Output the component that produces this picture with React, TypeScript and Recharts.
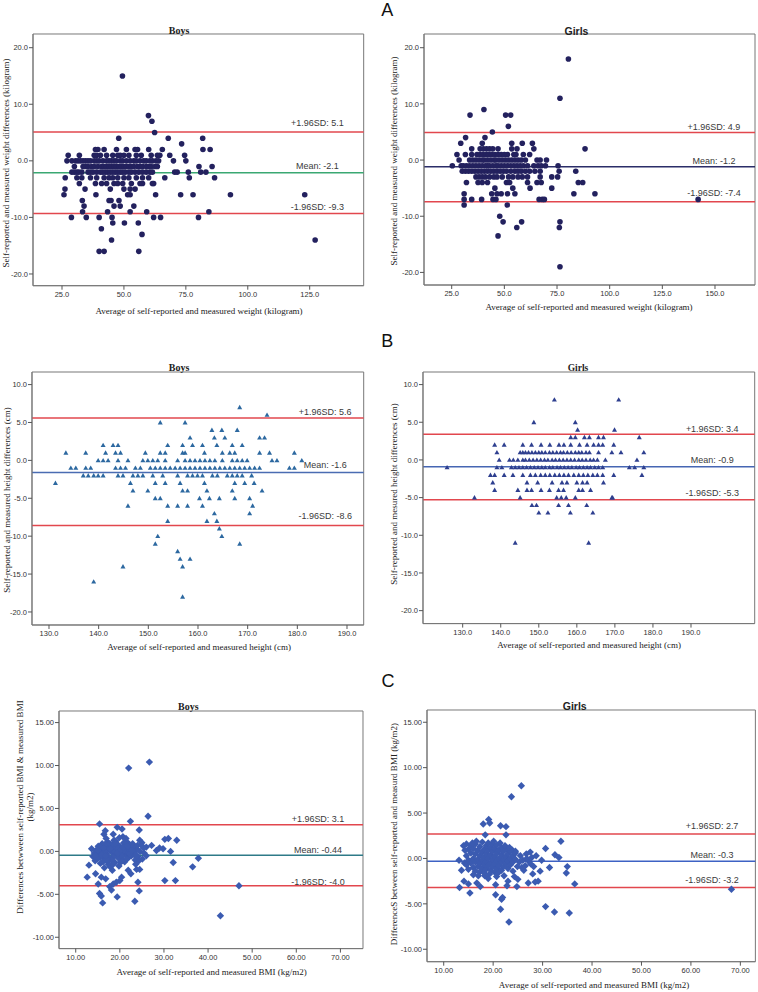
import React from 'react';
import { ScatterChart, Scatter, XAxis, YAxis, ReferenceLine, ReferenceArea } from 'recharts';

type Rows = [number, number[]][];

// ---------- DATA ----------
// A: weight differences (kg), rows = [difference, averages[]]
const boysWeightRows: Rows = [
  [15, [49.4]],
  [8, [59.9]],
  [7, [61.3]],
  [5, [62.4]],
  [4, [47.9, 67.9, 81.8]],
  [3, [73.3]],
  [2, [38.5, 39.5, 42, 47, 51, 54.5, 55.5, 60, 65.5, 81.9, 84.8]],
  [1, [27.5, 32, 38, 39, 40.5, 43, 45.5, 47.5, 48.5, 50, 52, 55, 57, 61, 63.5, 64.5, 68.5, 74.5]],
  [0, [27, 29, 30.5, 31.5, 32.5, 33.5, 34.5, 35.5, 36.5, 38, 39, 40, 41.5, 43, 44, 45, 46, 47, 48.5, 49.5, 51, 52.5, 54, 55, 56.5, 58, 59, 60.5, 61.5, 63, 64, 70, 75]],
  [-1, [30, 33.5, 34.5, 35.5, 37, 38, 39.5, 41, 42, 43, 44, 45, 46, 47, 48, 49, 50, 51, 52, 53, 54, 55.5, 56.5, 57.5, 59, 60, 61, 62.5, 63.5, 80.3, 85.6]],
  [-2, [29, 30, 31, 31.8, 33, 35.5, 36.5, 37.5, 39, 40.5, 41.5, 42.5, 43.5, 44.5, 45.5, 46.5, 47.5, 48.5, 49.5, 50.5, 52, 53, 54.5, 56, 57.5, 59, 60.5, 61.5, 70.5, 71.5, 76, 81, 83.1]],
  [-3, [26.3, 31, 33, 36.5, 39, 42, 44, 45.5, 47.5, 50, 52, 55, 57.5, 60, 66.5, 76.4, 86.6]],
  [-4, [32, 38.5, 41, 43, 46, 47.5, 49.5, 53, 56.5, 57.5, 61.5, 62]],
  [-5, [26.2, 34.3, 44.5, 50, 52.5, 54.5]],
  [-6, [25.8, 38.7, 51.5, 52.5, 62.8, 72.9, 77.9, 93, 123]],
  [-7, [33.2, 44, 44.8, 48]],
  [-8, [33.9, 46, 48.5, 54]],
  [-9, [33.3, 43.4, 52.5, 59.2, 84.3]],
  [-10, [28.8, 34.8, 40, 45.2, 62, 64.8, 80.1]],
  [-11, [45.5, 50.2, 55.8]],
  [-12, [40.9]],
  [-13, [57.3]],
  [-14, [45, 127.2]],
  [-16, [40, 42, 56]],
];

const girlsWeightRows: Rows = [
  [18, [80.4]],
  [11, [76.4]],
  [9, [40.3]],
  [8, [33.7, 50.6, 53]],
  [6, [51.9]],
  [5, [44.3]],
  [4, [31.6, 40.8]],
  [3, [29.3, 39.5, 53.5, 58.5, 63.3]],
  [2, [34.5, 38.5, 40, 41.5, 43, 44.5, 47, 53.5, 56, 64, 88.3]],
  [1, [27.5, 31.5, 34.5, 37, 38.5, 40, 41.5, 42.5, 44, 45.5, 47, 48.5, 50, 51.5, 54.5, 55.5, 59, 62]],
  [0, [28.5, 33.5, 35, 36.5, 38, 39.5, 40.5, 42, 43.5, 45, 46, 47.5, 49, 50.5, 52, 53.5, 55, 56.5, 58, 60, 65.5, 67, 70]],
  [-1, [25.3, 29.5, 30.5, 32, 33.5, 35, 36.5, 38, 39.5, 41, 42, 43, 44.5, 46, 47, 48.5, 50, 51.5, 53, 54.5, 56, 57.5, 59, 61, 64, 66, 67.5, 69.5, 75.5]],
  [-2, [30, 31.5, 33, 34.5, 36, 37.5, 39, 40.5, 42, 43.5, 45, 46.5, 48, 49.5, 51, 53, 55, 56.5, 58, 60, 62, 64.5, 67, 76, 83.9]],
  [-3, [36.5, 38, 39.5, 41, 43, 45, 46.5, 49, 52, 54, 56.5, 58.5, 61, 67, 72.5, 75.3]],
  [-4, [32, 37.5, 39.5, 42, 51, 52.5, 61, 65.5, 67.5, 85.1, 87.2]],
  [-5, [45.5, 54, 62.2, 72.5]],
  [-6, [30.9, 44, 46.5, 48.5, 51.5, 55, 83, 93]],
  [-7, [30.9, 34.5, 39.2, 44.6, 46, 66.5, 68, 69, 142]],
  [-8, [30.9, 51.4]],
  [-10, [47.8]],
  [-11, [49.4, 58.2, 76.4]],
  [-12, [55.9, 76.1]],
  [-13.5, [47]],
  [-19, [76.4]],
];

// B: height differences (cm)
const boysHeightRows: Rows = [
  [7, [168.4]],
  [6, [173.9]],
  [5, [152.4, 157.4]],
  [4, [162.8, 164.8, 167.9]],
  [3, [158.4, 163.3, 165.4, 172.4, 173.4]],
  [2, [140.9, 142.9, 143.9, 153.9, 156.9, 158.9, 160.9, 163.8, 166.9, 168.9]],
  [1, [133.4, 137.4, 141.4, 143.4, 144.4, 149.4, 152.4, 153.4, 156.9, 157.4, 161.3, 164.9, 166.4, 167.4, 172.4, 174.4, 179.4]],
  [0, [139.9, 140.9, 141.9, 143.9, 145.9, 148.9, 149.9, 150.9, 151.9, 153.4, 155.9, 157.4, 158.4, 159.4, 160.4, 161.4, 162.4, 163.4, 164.9, 166.9, 167.9, 168.9, 169.9, 174.9, 175.9, 180.9]],
  [-1, [134.4, 135.4, 137.4, 138.4, 143.4, 144.4, 145.4, 147.4, 148.4, 150.4, 151.4, 152.4, 153.4, 154.4, 155.4, 156.4, 157.4, 158.4, 159.4, 160.4, 161.4, 162.4, 163.4, 164.4, 165.4, 166.4, 167.4, 168.4, 169.4, 170.4, 171.4, 172.4, 178.4, 179.4]],
  [-2, [136.9, 137.9, 139, 139.9, 140.9, 143.9, 144.9, 146.9, 147.9, 148.9, 150.9, 152.9, 155.9, 157.9, 158.9, 159.9, 160.9, 162.9, 163.9, 165.9, 166.9, 167.9, 168.9, 170.8]],
  [-3, [131.3, 146.4, 151.4, 153.4, 156.4, 161.3, 167.4, 169.4, 171.3]],
  [-4, [146.9, 149.9, 156.9, 157.9, 161.8, 166.9, 172.9]],
  [-5, [151.4, 152.4, 160.3, 162.3, 164.3, 167.4, 170.4]],
  [-6, [145.9, 153.9, 155.9, 157.9, 160.9, 171]],
  [-7, [163.3, 170.4]],
  [-8, [153.9, 161.8, 163.8]],
  [-9, [164.3]],
  [-10, [151.9, 164.8]],
  [-11, [151.4, 168.4]],
  [-12, [155.9]],
  [-13, [156.4, 158.4]],
  [-14, [144.9, 156.9]],
  [-16, [139]],
  [-18, [156.9]],
];

const girlsHeightRows: Rows = [
  [8, [154.1, 171.0]],
  [5, [148.7, 159.6]],
  [4, [160.2, 169.9]],
  [3, [158.4, 159.6, 162.0, 163.3, 165.7, 167.0, 176.4]],
  [2, [138.4, 140.9, 145.8, 148.1, 150.6, 152.9, 155.3, 156.6, 158.4, 160.7, 162.7, 164.4, 165.7, 166.8, 169.7]],
  [1, [139.0, 145.1, 145.8, 146.5, 147.3, 148.2, 149.1, 150.0, 150.8, 151.7, 152.8, 153.7, 154.7, 155.7, 156.5, 157.5, 158.5, 159.6, 160.5, 161.3, 162.4, 163.3, 165.7, 169.2, 171.6, 177.6]],
  [0, [139.6, 142.3, 143.3, 144.5, 145.8, 146.5, 147.5, 148.5, 149.5, 150.5, 151.5, 152.4, 153.5, 154.4, 155.4, 156.4, 157.4, 158.4, 159.4, 160.5, 161.4, 162.4, 163.5, 164.4, 165.4, 167.5, 175.8]],
  [-1, [125.9, 139.0, 140.3, 142.8, 143.8, 144.8, 145.8, 146.8, 147.8, 148.8, 149.8, 150.8, 151.7, 152.8, 153.7, 154.8, 155.7, 156.7, 157.7, 158.7, 159.8, 160.7, 161.7, 162.7, 163.6, 164.7, 165.7, 166.8, 173.8, 175.2, 177.6]],
  [-2, [137.3, 138.4, 140.9, 143.2, 145.8, 147.8, 149.1, 150.5, 151.7, 152.9, 154.2, 155.4, 156.6, 157.8, 159.2, 160.5, 161.7, 162.9, 164.2, 165.4, 166.8, 169.7, 177.1]],
  [-3, [137.9, 146.9, 149.7, 153.5, 156.1, 157.4, 160.0, 161.5, 162.7, 167.0]],
  [-4, [138.4, 144.5, 146.9, 148.1, 150.6, 152.8, 155.2, 156.5, 160.5, 161.5, 163.6]],
  [-5, [133.1, 145.1, 154.7, 155.9, 157.2, 159.6, 169.2, 169.4]],
  [-6, [148.2, 149.4, 155.2, 157.8, 162.6]],
  [-7, [150.0, 152.4, 158.3, 164.2]],
  [-11, [143.8, 163.1]],
];

// C: BMI differences (kg/m2), [average, difference]
const boysBmiPoints: [number, number][] = [
  [22.0, 9.7], [26.7, 10.4], [26.4, 4.1], [22.4, 3.5], [15.4, 3.2], [24.4, 2.5], [19.4, 2.8], [20.5, 2.6],
  [16.7, 2.4], [16.4, 2.0], [18.5, 2.0], [18.7, 1.3], [20.7, 1.7], [21.6, 1.1], [24.5, 1.3], [25.0, 1.0],
  [27.2, 0.7], [26.0, 0.5], [28.3, 0.1], [29.0, 0.4], [29.8, 0.3], [31.0, 1.5], [32.9, 1.3], [30.2, 1.4],
  [31.5, 0.0], [32.1, -1.3], [36.5, -1.8], [37.8, -0.8], [30.2, -3.4], [32.6, -3.4], [47.0, -4.0], [42.8, -7.5],
  [12.6, -3.0], [13.0, -1.6], [16.1, -6.0], [23.4, -5.8], [19.4, -5.3], [24.4, -4.6], [24.1, -3.6], [14.5, -2.6],
  [15.1, -3.8], [15.4, -4.9], [15.8, -5.2], [16.8, -3.2], [17.7, -4.1], [18.1, -4.5], [18.5, -3.8], [20.0, -3.4],
  [20.4, -3.0], [21.9, -2.2], [22.5, -2.6], [23.8, -2.1], [24.5, -2.1], [15.8, -3.0], [19.2, -3.6], [17.3, -1.2],
  [13.6, 0.3], [13.9, -0.6], [14.4, -1.1], [14.6, 0.1], [15.1, 0.6], [15.3, -0.4], [15.6, -1.4], [15.9, 0.2],
  [16.0, 0.9], [16.3, -0.8], [16.5, -1.9], [16.8, 0.5], [17.0, -0.3], [17.2, 1.1], [17.4, -1.5], [17.6, 0.2],
  [17.9, -0.9], [18.1, 0.7], [18.3, -2.2], [18.4, -0.2], [18.7, 0.4], [18.9, -1.3], [19.1, 1.2], [19.3, -0.5],
  [19.6, 0.1], [19.8, -1.7], [20.0, 0.6], [20.2, -0.9], [20.5, 0.3], [20.7, -0.1], [20.9, 1.0], [21.1, -1.2],
  [21.3, 0.5], [21.5, -0.4], [21.8, 0.2], [22.0, -0.7], [22.2, 0.8], [22.4, -0.1], [22.7, 0.4], [23.0, -0.3],
  [23.2, 0.1], [23.5, -1.0], [23.8, 0.3], [24.1, -0.6], [24.6, 0.0], [25.1, -0.9], [25.4, 0.4], [26.0, -0.5],
  [16.1, -0.1], [17.5, 0.6], [18.6, -0.6], [19.5, 0.8], [20.3, -0.4], [21.0, 0.1], [21.9, -0.2], [17.1, -1.1],
  [18.0, 0.0], [19.0, -0.1], [20.1, -1.3], [16.6, 0.0], [15.5, -0.7], [22.9, 0.9], [14.2, -0.2], [17.8, -1.8],
  [19.9, 1.6], [21.4, 1.5], [23.6, -1.5], [16.9, 1.5], [24.9, 0.7],
  [14.9, -0.9], [15.7, 0.5], [16.2, -1.2], [16.7, 0.8], [17.3, -0.6], [17.7, 0.9], [18.2, -1.0], [18.8, 0.0],
  [19.2, 0.5], [19.7, -0.8], [20.2, 0.2], [20.6, -0.6], [21.2, 0.8], [21.6, -0.9], [22.1, 0.3], [22.6, -0.5],
  [23.1, 0.6], [23.4, -0.2], [24.0, 0.7], [24.3, -1.1], [15.0, 0.1], [16.4, 0.4], [17.8, 0.3], [19.4, -0.2],
  [20.8, 0.5], [22.3, -0.3], [18.4, 0.9], [20.5, -1.1], [17.0, -0.9], [21.7, 0.6], [15.9, -0.4], [19.0, 0.9],
  [16.8, -0.5], [23.7, -0.6], [18.5, -1.5], [22.8, 0.1], [14.5, -0.5], [25.5, -0.2],
];

const girlsBmiPoints: [number, number][] = [
  [25.7, 8.0], [23.7, 6.8], [19.1, 4.3], [19.3, 3.9], [18.0, 3.8], [21.5, 3.6], [22.6, 3.5], [18.4, 2.6],
  [22.6, 2.6], [14.6, 1.6], [14.0, 1.4], [30.6, 1.1], [33.7, 1.9], [32.5, 0.4], [33.3, 0.1], [35.0, -0.9],
  [31.4, -1.0], [34.8, -1.6], [36.5, -2.8], [30.6, -5.3], [32.4, -5.9], [35.4, -6.0], [21.7, -4.5], [20.5, -4.0],
  [21.5, -5.6], [23.2, -7.0], [21.9, -4.3], [13.2, -3.2], [14.1, -2.5], [15.3, -3.8], [16.7, -2.7], [17.4, -3.1],
  [15.0, -2.8], [68.2, -3.4], [29.1, -2.5], [27.1, -2.7], [24.8, -3.1], [22.8, -3.0], [28.5, -2.6], [29.5, -1.4],
  [28.0, -1.7], [26.2, -1.3], [20.5, -2.9], [19.0, -2.2], [18.3, -1.9], [13.1, -0.2], [13.6, -1.3], [14.2, -0.5],
  [25.0, -2.3], [23.0, -2.5], [24.3, -2.0], [29.8, -0.2], [28.7, 0.3], [27.5, 0.7], [26.7, 0.5], [24.5, 0.8],
  [23.9, 0.9], [25.3, -0.4], [26.5, -0.8], [27.2, -0.3], [28.2, -0.9], [27.8, 0.1], [24.0, -1.4], [22.2, -1.9],
  [20.7, -2.0], [16.0, -1.8],
  [14.6, 0.3], [14.6, -0.7], [15.0, 1.0], [15.0, -0.2], [15.0, -1.2], [15.5, 0.6], [15.5, -0.5], [15.5, 1.4],
  [16.0, 0.0], [16.0, -1.0], [16.0, 1.1], [16.4, 0.5], [16.4, -0.4], [16.4, 1.6], [16.4, -1.4], [16.9, 0.9],
  [16.9, -0.1], [16.9, -0.9], [17.3, 0.3], [17.3, 1.3], [17.3, -0.6], [17.3, -1.5], [17.8, 0.7], [17.8, -0.2],
  [17.8, -1.1], [17.8, 1.8], [18.2, 0.1], [18.2, 1.0], [18.2, -0.7], [18.2, -1.6], [18.6, 0.5], [18.6, -0.3],
  [18.6, 1.4], [18.6, -1.2], [19.0, 0.9], [19.0, 0.0], [19.0, -0.8], [19.0, 1.7], [19.5, 0.4], [19.5, -0.5],
  [19.5, 1.2], [19.5, -1.3], [19.9, 0.8], [19.9, -0.1], [19.9, -0.9], [19.9, 1.6], [20.3, 0.2], [20.3, 1.1],
  [20.3, -0.6], [20.3, -1.5], [20.8, 0.6], [20.8, -0.3], [20.8, 1.5], [20.8, -1.1], [21.2, 0.0], [21.2, 0.9],
  [21.2, -0.8], [21.7, 0.4], [21.7, -0.4], [21.7, 1.2], [21.7, -1.3], [22.1, 0.8], [22.1, -0.1], [22.1, -0.9],
  [22.6, 0.2], [22.6, 1.0], [22.6, -0.6], [23.0, 0.5], [23.0, -0.3], [23.0, -1.1], [23.5, 0.0], [23.5, 0.8],
  [23.5, -0.7], [24.0, 0.3], [24.0, -0.4], [24.5, -0.1], [24.5, 0.6],
  [25.5, 0.3], [26.0, -0.2], [26.8, 0.0], [25.8, -1.0], [27.6, -0.6], [24.9, -0.9], [22.4, 1.4], [23.3, 1.2],
  [21.0, -1.6], [19.3, -1.7], [17.0, -1.9], [15.8, 1.7], [14.3, 0.9], [16.6, 1.9], [20.1, 1.9], [21.4, 1.7],
];

// ---------- HELPERS ----------
const rowsToPoints = (rows: Rows) => rows.flatMap(([y, xs]) => xs.map((x) => ({ x, y })));
const pairsToPoints = (pairs: [number, number][]) => pairs.map(([x, y]) => ({ x, y }));

const SANS = '"Liberation Sans", Arial, sans-serif';
const SERIF = '"Liberation Serif", "Times New Roman", serif';
const RED = '#e2474e';

const makeShape = (kind: string, color: string) => (props: any) => {
  const { cx, cy } = props;
  if (cx == null || cy == null) return <g />;
  if (kind === 'circle') return <circle cx={cx} cy={cy} r={2.8} fill={color} />;
  if (kind === 'triangle')
    return <polygon points={`${cx},${cy - 2.5} ${cx + 2.5},${cy + 1.9} ${cx - 2.5},${cy + 1.9}`} fill={color} />;
  return <polygon points={`${cx},${cy - 3.7} ${cx + 3.7},${cy} ${cx},${cy + 3.7} ${cx - 3.7},${cy}`} fill={color} />;
};

const refLabel = (text: string, frac: number, dy: number) => (props: any) => {
  const vb = props.viewBox || {};
  const x = (vb.x ?? 0) + (vb.width ?? 0) * frac;
  const y = (vb.y ?? 0) - dy;
  return (
    <text x={x} y={y} textAnchor="middle" fontFamily={SANS} fontSize={9} fill="#3a3a3a">
      {text}
    </text>
  );
};

interface LineCfg { value: number; text: string; color: string; dy: number }
interface PanelCfg {
  box: { l: number; t: number; r: number; b: number };
  xDomain: [number, number];
  yDomain: [number, number];
  xTicks: number[];
  yTicks: number[];
  decimals: number;
  points: { x: number; y: number }[];
  shape: string;
  color: string;
  frac: number;
  lines: LineCfg[];
}

const heightTicks = [130, 140, 150, 160, 170, 180, 190];
const heightYTicks = [-20, -15, -10, -5, 0, 5, 10];
const bmiXTicks = [10, 20, 30, 40, 50, 60, 70];
const bmiYTicks = [-10, -5, 0, 5, 10, 15];
const weightYTicks = [-20, -10, 0, 10, 20];

const panels: PanelCfg[] = [
  {
    box: { l: 33.3, t: 34.3, r: 364, b: 286 }, xDomain: [13.29, 146.8], yDomain: [-22.07, 22.42],
    xTicks: [25, 50, 75, 100, 125], yTicks: weightYTicks, decimals: 1,
    points: rowsToPoints(boysWeightRows), shape: 'circle', color: '#23215e', frac: 0.86,
    lines: [
      { value: 5.1, text: '+1.96SD: 5.1', color: RED, dy: 6 },
      { value: -2.1, text: 'Mean: -2.1', color: '#3aa872', dy: 4 },
      { value: -9.3, text: '-1.96SD: -9.3', color: RED, dy: 3 },
    ],
  },
  {
    box: { l: 424, t: 34.3, r: 755, b: 285.3 }, xDomain: [11.85, 168.99], yDomain: [-22.24, 22.44],
    xTicks: [25, 50, 75, 100, 125, 150], yTicks: weightYTicks, decimals: 1,
    points: rowsToPoints(girlsWeightRows), shape: 'circle', color: '#23215e', frac: 0.876,
    lines: [
      { value: 4.9, text: '+1.96SD: 4.9', color: RED, dy: 3 },
      { value: -1.2, text: 'Mean: -1.2', color: '#2b2d68', dy: 3 },
      { value: -7.4, text: '-1.96SD: -7.4', color: RED, dy: 6 },
    ],
  },
  {
    box: { l: 32.3, t: 371.7, r: 364, b: 624.7 }, xDomain: [126.58, 193.36], yDomain: [-21.72, 11.66],
    xTicks: heightTicks, yTicks: heightYTicks, decimals: 1,
    points: rowsToPoints(boysHeightRows), shape: 'triangle', color: '#2c68a0', frac: 0.884,
    lines: [
      { value: 5.6, text: '+1.96SD: 5.6', color: RED, dy: 3 },
      { value: -1.6, text: 'Mean: -1.6', color: '#4a6cb2', dy: 4 },
      { value: -8.6, text: '-1.96SD: -8.6', color: RED, dy: 7 },
    ],
  },
  {
    box: { l: 423.3, t: 371.7, r: 755, b: 623.3 }, xDomain: [119.57, 206.74], yDomain: [-21.72, 11.67],
    xTicks: heightTicks, yTicks: heightYTicks, decimals: 1,
    points: rowsToPoints(girlsHeightRows), shape: 'triangle', color: '#2e3f8f', frac: 0.872,
    lines: [
      { value: 3.4, text: '+1.96SD: 3.4', color: RED, dy: 2 },
      { value: -0.9, text: 'Mean: -0.9', color: '#4666b3', dy: 4 },
      { value: -5.3, text: '-1.96SD: -5.3', color: RED, dy: 3.5 },
    ],
  },
  {
    box: { l: 59.3, t: 710.7, r: 363.3, b: 948.3 }, xDomain: [6.21, 75.12], yDomain: [-11.32, 16.35],
    xTicks: bmiXTicks, yTicks: bmiYTicks, decimals: 2,
    points: pairsToPoints(boysBmiPoints), shape: 'diamond', color: '#3b5bb1', frac: 0.852,
    lines: [
      { value: 3.1, text: '+1.96SD: 3.1', color: RED, dy: 3 },
      { value: -0.44, text: 'Mean: -0.44', color: '#2e7a88', dy: 2 },
      { value: -4.0, text: '-1.96SD: -4.0', color: RED, dy: 0.5 },
    ],
  },
  {
    box: { l: 427.3, t: 710, r: 755.7, b: 961.7 }, xDomain: [6.62, 73.04], yDomain: [-11.37, 16.35],
    xTicks: bmiXTicks, yTicks: bmiYTicks, decimals: 2,
    points: pairsToPoints(girlsBmiPoints), shape: 'diamond', color: '#3b5bb1', frac: 0.868,
    lines: [
      { value: 2.7, text: '+1.96SD: 2.7', color: RED, dy: 5 },
      { value: -0.3, text: 'Mean: -0.3', color: '#3e62c4', dy: 3 },
      { value: -3.2, text: '-1.96SD: -3.2', color: RED, dy: 5 },
    ],
  },
];

const YW = 40;
const XH = 24;
const MT = 4;
const MR = 4;

function Panel({ cfg }: { cfg: PanelCfg }) {
  const { box, xDomain, yDomain, xTicks, yTicks, decimals, points, shape, color, frac, lines } = cfg;
  const w = box.r - box.l;
  const h = box.b - box.t;
  const tickStyle = { fontFamily: SANS, fontSize: 7.5, fill: '#333' };
  return (
    <div style={{ position: 'absolute', left: box.l - YW, top: box.t - MT }}>
      <ScatterChart width={YW + w + MR} height={MT + h + XH} margin={{ top: MT, right: MR, bottom: 0, left: 0 }}>
        <XAxis
          type="number" dataKey="x" domain={xDomain} ticks={xTicks} allowDataOverflow interval={0}
          height={XH} tickSize={4} tickMargin={2} tick={tickStyle}
          tickFormatter={(v: number) => v.toFixed(decimals)}
          axisLine={{ stroke: '#777' }} tickLine={{ stroke: '#555' }}
        />
        <YAxis
          type="number" dataKey="y" domain={yDomain} ticks={yTicks} allowDataOverflow interval={0}
          width={YW} tickSize={4} tickMargin={1} tick={tickStyle}
          tickFormatter={(v: number) => v.toFixed(decimals)}
          axisLine={{ stroke: '#777' }} tickLine={{ stroke: '#555' }}
        />
        <ReferenceArea
          x1={xDomain[0]} x2={xDomain[1]} y1={yDomain[0]} y2={yDomain[1]}
          fill="none" fillOpacity={0} stroke="#777" strokeWidth={1} ifOverflow="visible"
        />
        <Scatter data={points} isAnimationActive={false} shape={makeShape(shape, color)} />
        {lines.map((l) => (
          <ReferenceLine
            key={l.text} y={l.value} stroke={l.color} strokeWidth={1.5}
            label={refLabel(l.text, frac, l.dy)}
          />
        ))}
      </ScatterChart>
    </div>
  );
}

const Txt = ({ x, y, children, font = SERIF, size = 9, weight = 'normal', rotate = false, color = '#222', lh = 1.15 }: any) => (
  <div
    style={{
      position: 'absolute', left: x, top: y, whiteSpace: 'nowrap', fontFamily: font, fontSize: size,
      fontWeight: weight, color, lineHeight: lh, textAlign: 'center',
      transform: `translate(-50%, -50%)${rotate ? ' rotate(-90deg)' : ''}`,
    }}
  >
    {children}
  </div>
);

export default function App() {
  return (
    <div style={{ position: 'absolute', left: 0, top: 0, width: 758, height: 992, background: '#fff', overflow: 'hidden' }}>
      {panels.map((p, i) => (
        <Panel key={i} cfg={p} />
      ))}

      <Txt x={387.3} y={9.5} font={SANS} size={18} lh={1} color="#111">A</Txt>
      <Txt x={387.3} y={340.5} font={SANS} size={18} lh={1} color="#111">B</Txt>
      <Txt x={388} y={680.5} font={SANS} size={18} lh={1} color="#111">C</Txt>

      <Txt x={179} y={31} weight="bold" size={10}>Boys</Txt>
      <Txt x={576.5} y={31} font={SANS} weight="bold" size={10.5}>Girls</Txt>
      <Txt x={179} y={367.7} weight="bold" size={10}>Boys</Txt>
      <Txt x={578} y={367.7} weight="bold" size={9.5}>Girls</Txt>
      <Txt x={188.3} y={706.7} weight="bold" size={10}>Boys</Txt>
      <Txt x={574.7} y={706} font={SANS} weight="bold" size={10.5}>Girls</Txt>

      <Txt x={199} y={310.7}>Average of self-reported and measured weight (kilogram)</Txt>
      <Txt x={589} y={307.3}>Average of self-reported and measured weight (kilogram)</Txt>
      <Txt x={199} y={647.3}>Average of self-reported and measured height (cm)</Txt>
      <Txt x={589} y={645}>Average of self-reported and measured height (cm)</Txt>
      <Txt x={211.7} y={971.7}>Average of self-reported and measured BMI (kg/m2)</Txt>
      <Txt x={594} y={985}>Average of self-reported and measured BMI (kg/m2)</Txt>

      <Txt x={5.5} y={163} rotate>Self-reported and  measured weight differences (kilogram)</Txt>
      <Txt x={394} y={161} rotate>Self-reported and  measured weight differences (kilogram)</Txt>
      <Txt x={6.5} y={500} rotate>Self-reported and measured height differences (cm)</Txt>
      <Txt x={394} y={494} rotate>Self-reported and mesured height differences (cm)</Txt>
      <Txt x={25.3} y={806.7} rotate>
        Differences betwween self-reported BMI &amp; measured BMI
        <br />
        (kg/m2)
      </Txt>
      <Txt x={394} y={834} rotate>DifferenceS between self-reported and measurd BMI (kg/m2)</Txt>
    </div>
  );
}
